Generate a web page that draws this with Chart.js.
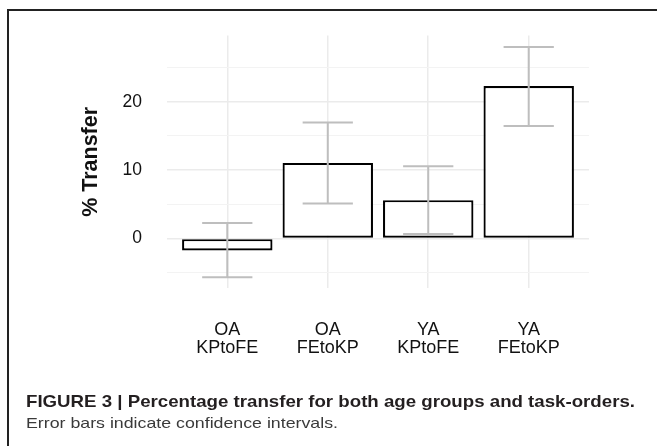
<!DOCTYPE html>
<html><head><meta charset="utf-8">
<script src="https://cdn.jsdelivr.net/npm/chart.js@4"></script>
<style>
html,body{margin:0;padding:0;background:#fff;}
#wrap{position:relative;width:657px;height:446px;overflow:hidden;background:#fff;}
#frame{position:absolute;left:7px;top:9px;width:700px;height:500px;border-left:2px solid #222;border-top:2px solid #222;}
#c{position:absolute;left:0;top:0;}
.cap{position:absolute;left:26px;white-space:nowrap;transform-origin:0 0;font-family:"Liberation Sans",Arial,sans-serif;line-height:1;}
#t1{top:393px;font-weight:bold;font-size:17px;color:#231f20;}
#t2{top:414.6px;font-size:15px;color:#3a3a3a;}
</style></head>
<body>
<div id="wrap">
<div id="frame"></div>
<canvas id="c" width="657" height="446"></canvas>
<div class="cap" id="t1">FIGURE 3 | Percentage transfer for both age groups and task-orders.</div>
<div class="cap" id="t2">Error bars indicate confidence intervals.</div>
</div>
<script>
const categories = [["OA","KPtoFE"],["OA","FEtoKP"],["YA","KPtoFE"],["YA","FEtoKP"]];
const transfer = [-1.75, 11.05, 5.6, 22.3];
const ciLower = [-5.67, 5.1, 0.65, 16.45];
const ciUpper = [2.27, 16.97, 10.58, 28.03];
const yTickLabels = [0, 10, 20];
const yGridValues = [-5, 0, 5, 10, 15, 20, 25];

const FONT = '"Liberation Sans", Arial, sans-serif';

const errorBars = {
  id: 'errorBars',
  afterDatasetsDraw(chart) {
    const {ctx, scales: {x, y}} = chart;
    ctx.save();
    ctx.strokeStyle = '#bebebe';
    ctx.lineWidth = 2;
    ciLower.forEach((lo, i) => {
      const hi = ciUpper[i];
      const xc = x.getPixelForValue(i), xl = x.getPixelForValue(i - 0.25), xr = x.getPixelForValue(i + 0.25);
      const yl = y.getPixelForValue(lo), yh = y.getPixelForValue(hi);
      ctx.beginPath();
      ctx.moveTo(xc, yl); ctx.lineTo(xc, yh);
      ctx.moveTo(xl, yl); ctx.lineTo(xr, yl);
      ctx.moveTo(xl, yh); ctx.lineTo(xr, yh);
      ctx.stroke();
    });
    ctx.restore();
  }
};

new Chart(document.getElementById('c'), {
  type: 'bar',
  data: {
    datasets: [{
      data: transfer.map((v, i) => ({x: i, y: v})),
      backgroundColor: '#ffffff',
      borderColor: '#000000',
      borderWidth: 2.2,
      borderSkipped: false,
      categoryPercentage: 0.9,
      barPercentage: 1.0
    }]
  },
  options: {
    responsive: false,
    animation: false,
    layout: {padding: {left: 78, top: 28, right: 68, bottom: 0}},
    plugins: {legend: {display: false}, tooltip: {enabled: false}},
    scales: {
      x: {
        type: 'linear', min: -0.6, max: 3.6, offset: false,
        afterBuildTicks: s => { s.ticks = categories.map((c, i) => ({value: i})); },
        afterFit: s => { s.height = 446 - 288.3; },
        ticks: {
          callback: v => categories[v],
          font: {family: FONT, size: 18, lineHeight: 1.0},
          color: '#111111', padding: 33, maxRotation: 0, autoSkip: false
        },
        grid: {color: '#ebebeb', lineWidth: 1.5, drawTicks: false, offset: false},
        border: {display: false}
      },
      y: {
        min: -7.3, max: 29.7,
        afterBuildTicks: s => { s.ticks = yGridValues.map(v => ({value: v})); },
        afterFit: s => { s.width = 167 - 78; },
        ticks: {
          callback: v => yTickLabels.includes(v) ? String(v) : '',
          font: {family: FONT, size: 17.5},
          color: '#111111', padding: 25
        },
        grid: {
          color: c => (c.tick && c.tick.value % 10 === 0) ? '#ebebeb' : '#f3f3f3',
          lineWidth: c => (c.tick && c.tick.value % 10 === 0) ? 1.5 : 1,
          drawTicks: false
        },
        border: {display: false},
        title: {display: true, text: '% Transfer', color: '#111',
          font: {family: FONT, size: 21.5, weight: 'bold'}, padding: {top: 0, bottom: 0}}
      }
    }
  },
  plugins: [errorBars]
});

// stretch caption lines to the reference widths
[['t1', 609], ['t2', 312]].forEach(([id, w]) => {
  const el = document.getElementById(id);
  el.style.transform = 'scaleX(' + (w / el.getBoundingClientRect().width) + ')';
});
</script>
</body></html>
